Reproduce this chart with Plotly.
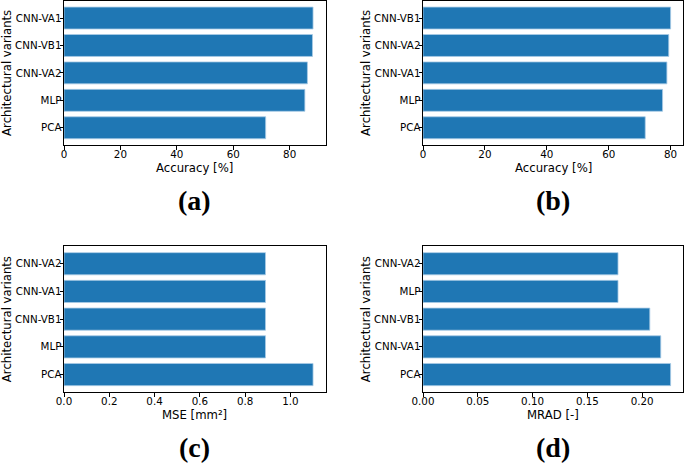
import plotly.graph_objects as go

# ---- data ----
cats_a = ["PCA", "MLP", "CNN-VA2", "CNN-VB1", "CNN-VA1"]
acc_a = [71.5, 85.4, 86.3, 88.1, 88.3]

cats_b = ["PCA", "MLP", "CNN-VA1", "CNN-VA2", "CNN-VB1"]
acc_b = [71.8, 77.4, 78.8, 79.4, 80.0]

cats_c = ["PCA", "MLP", "CNN-VB1", "CNN-VA1", "CNN-VA2"]
mse_c = [1.10, 0.89, 0.89, 0.89, 0.89]

cats_d = ["PCA", "CNN-VA1", "CNN-VB1", "MLP", "CNN-VA2"]
mrad_d = [0.226, 0.217, 0.207, 0.178, 0.178]

panels = [
    dict(cats=cats_a, vals=acc_a, xlabel="Accuracy [%]", tag="(a)", dtick=20, fmt="d"),
    dict(cats=cats_b, vals=acc_b, xlabel="Accuracy [%]", tag="(b)", dtick=20, fmt="d"),
    dict(cats=cats_c, vals=mse_c, xlabel="MSE [mm²]", tag="(c)", dtick=0.2, fmt=".1f"),
    dict(cats=cats_d, vals=mrad_d, xlabel="MRAD [-]", tag="(d)", dtick=0.05, fmt=".2f"),
]

W, H = 685, 464
# plot-area pixel boxes (left, right, top, bottom)
boxes = [
    (64, 325.5, 0.5, 145.3),
    (423, 683, 0.5, 145.3),
    (64, 325.5, 246, 392.3),
    (423, 683, 246, 392.3),
]

BAR = "#1f77b4"
tick_font = dict(family="DejaVu Sans", size=10.3, color="black")
title_font = dict(family="DejaVu Sans", size=11.7, color="black")

fig = go.Figure()
layout = dict(
    width=W, height=H,
    margin=dict(l=0, r=0, t=0, b=0),
    paper_bgcolor="white", plot_bgcolor="white",
    showlegend=False,
    bargap=0.2,
)
annotations = []

for i, (p, (l, r, t, b)) in enumerate(zip(panels, boxes)):
    n = i + 1
    xa = "x" if n == 1 else f"x{n}"
    ya = "y" if n == 1 else f"y{n}"
    fig.add_trace(go.Bar(
        x=p["vals"], y=p["cats"], orientation="h",
        marker=dict(color=BAR, line=dict(color="#a9cbe6", width=0.8)),
        width=0.8,
        xaxis=xa, yaxis=ya,
    ))
    xkey = "xaxis" if n == 1 else f"xaxis{n}"
    ykey = "yaxis" if n == 1 else f"yaxis{n}"
    xmax = max(p["vals"]) * 1.05
    layout[xkey] = dict(
        domain=[l / W, r / W], anchor=ya, automargin=False,
        range=[0, xmax], tick0=0, dtick=p["dtick"], tickformat=p["fmt"],
        showgrid=False, zeroline=False,
        showline=True, linecolor="black", linewidth=1, mirror=True,
        ticks="outside", ticklen=3.5, tickcolor="black", tickwidth=0.8,
        ticklabelstandoff=-4,
        tickfont=tick_font, fixedrange=True,
    )
    layout[ykey] = dict(
        domain=[1 - b / H, 1 - t / H], anchor=xa, automargin=False,
        type="category", categoryorder="array", categoryarray=p["cats"],
        range=[-0.64, 4.64],
        showgrid=False, zeroline=False,
        showline=True, linecolor="black", linewidth=1, mirror=True,
        ticks="outside", ticklen=3.5, tickcolor="black", tickwidth=0.8,
        ticklabelstandoff=-4,
        tickfont=tick_font, fixedrange=True,
    )
    cx = (l + r) / 2
    # x-axis title
    annotations.append(dict(
        text=p["xlabel"], x=cx / W, y=1 - (b + 22.5) / H,
        xref="paper", yref="paper", xanchor="center", yanchor="middle",
        showarrow=False, font=title_font,
    ))
    # y-axis title
    annotations.append(dict(
        text="Architectural variants", x=(l - 57) / W, y=1 - ((t + b) / 2) / H,
        xref="paper", yref="paper", xanchor="center", yanchor="middle",
        textangle=-90, showarrow=False, font=title_font,
    ))
    # panel tag
    annotations.append(dict(
        text="<b>" + p["tag"] + "</b>", x=cx / W, y=1 - (b + 55) / H,
        xref="paper", yref="paper", xanchor="center", yanchor="middle",
        showarrow=False, font=dict(family="Liberation Serif", size=28, color="black"),
    ))

layout["annotations"] = annotations
fig.update_layout(**layout)
fig.write_html(
    "out.html",
    config={"displayModeBar": False},
    post_script="document.body.style.margin='0';document.body.style.overflow='hidden';",
)
